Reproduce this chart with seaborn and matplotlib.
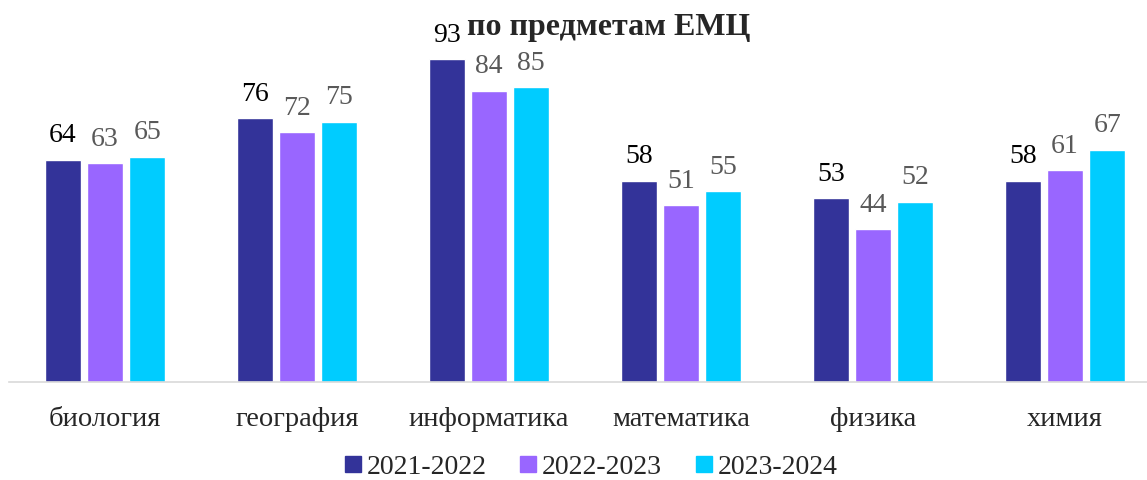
import matplotlib
matplotlib.use("Agg")
import matplotlib.pyplot as plt
import seaborn as sns
import pandas as pd

subjects = ["биология", "география", "информатика", "математика", "физика", "химия"]
years = ["2021-2022", "2022-2023", "2023-2024"]
y2021 = [64, 76, 93, 58, 53, 58]
y2022 = [63, 72, 84, 51, 44, 61]
y2023 = [65, 75, 85, 55, 52, 67]
colors = ["#333399", "#9966FF", "#00CCFF"]
label_colors = ["#000000", "#595959", "#595959"]

df = pd.DataFrame({
    "subject": subjects * 3,
    "year": [years[0]] * 6 + [years[1]] * 6 + [years[2]] * 6,
    "value": y2021 + y2022 + y2023,
})

sns.set_style("white")
plt.rcParams["font.family"] = ["Liberation Serif", "DejaVu Serif"]

fig = plt.figure(figsize=(11.47, 4.81), dpi=100)
ax = fig.add_axes([9 / 1147, 98 / 481, 1152 / 1147, 383 / 481])

sns.barplot(data=df, x="subject", y="value", hue="year", palette=colors,
            saturation=1, width=0.66, gap=0.14, ax=ax, legend=False)

for cont, lc in zip(ax.containers, label_colors):
    ax.bar_label(cont, padding=9, fontsize=20, color=lc)

ax.set_ylim(0, 110.4)
ax.set_xlim(-0.5, 5.5)
ax.set_xlabel("")
ax.set_ylabel("")
ax.set_yticks([])
ax.tick_params(axis="x", labelsize=20.5, pad=17, length=0)
for s in ["top", "right", "left"]:
    ax.spines[s].set_visible(False)
ax.spines["bottom"].set_color("#d9d9d9")
ax.spines["bottom"].set_linewidth(1.2)

fig.text(0.531, 0.942, "по предметам ЕМЦ", ha="center", va="center",
         fontsize=23, fontweight="bold")

handles = [plt.Line2D([], [], marker="s", linestyle="", markersize=11,
                      color=c) for c in colors]
fig.legend(handles, years, loc="center", bbox_to_anchor=(0.514, 0.028),
           ncol=3, frameon=False, fontsize=20, handletextpad=0.1,
           columnspacing=1.1, handlelength=0.8)

fig.savefig("out.png", dpi=100)
